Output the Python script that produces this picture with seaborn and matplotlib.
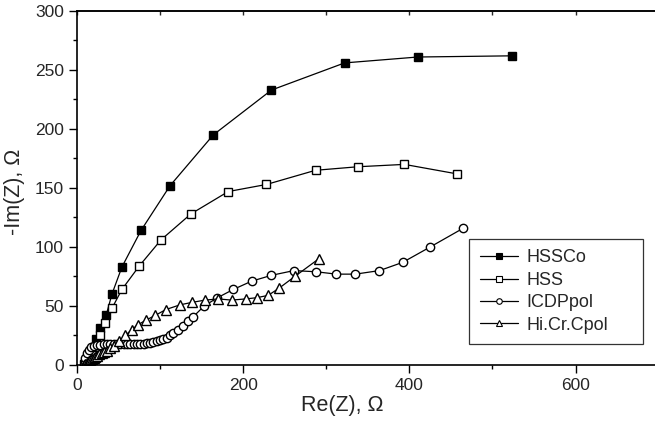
import matplotlib
matplotlib.use("Agg")
import matplotlib.pyplot as plt
import seaborn as sns
import pandas as pd
from matplotlib.ticker import MultipleLocator

# data
hssco_x = [8, 10, 12, 15, 19, 23, 28, 35, 42, 54, 77, 112, 164, 234, 322, 410, 523]
hssco_y = [0.5, 2, 4, 8, 14, 22, 31, 42, 60, 83, 114, 152, 195, 233, 256, 261, 262]

hss_x = [9, 11, 14, 18, 22, 28, 34, 42, 54, 75, 101, 137, 182, 228, 287, 338, 394, 457]
hss_y = [0.5, 2, 5, 9, 15, 25, 36, 48, 64, 84, 106, 128, 147, 153, 165, 168, 170, 162]

icdp_x = [8, 9, 10, 12, 14, 17, 20, 24, 28, 32, 36, 40, 44, 48, 52, 56, 60, 64, 68, 72,
          76, 80, 84, 88, 92, 96, 100, 104, 108, 112, 116, 121, 127, 133, 140, 153,
          169, 188, 210, 234, 261, 288, 312, 335, 364, 392, 425, 465]
icdp_y = [0, 3, 6, 10, 13, 15, 16, 17, 17, 17.5, 17.5, 17.5, 17.5, 17.5, 17.5, 17.5, 17.5,
          17.5, 17.5, 18, 18, 18, 18.5, 19, 19.5, 20, 21, 22, 23, 25, 27, 30, 33, 37, 41,
          50, 57, 64, 71, 76, 80, 79, 77, 77, 80, 87, 100, 116]

hicr_x = [8, 10, 12, 14, 16, 18, 20, 22, 24, 27, 30, 33, 36, 40, 45, 51, 58, 66, 73, 83,
          94, 107, 124, 138, 154, 170, 186, 203, 216, 230, 243, 262, 291]
hicr_y = [0, 1, 2, 3, 4, 5, 6, 7, 8, 9, 10, 11, 12, 14, 16, 20, 25, 30, 34, 38,
          42, 47, 51, 53, 55, 56, 55, 56, 57, 59, 65, 75, 90]

series_names = ["HSSCo", "HSS", "ICDPpol", "Hi.Cr.Cpol"]
series_x = [hssco_x, hss_x, icdp_x, hicr_x]
series_y = [hssco_y, hss_y, icdp_y, hicr_y]
markers = ["s", "s", "o", "^"]
faces = ["black", "white", "white", "white"]
msizes = [6.2, 5.5, 6, 6.5]

sns.set_style("ticks")
plt.rcParams["font.family"] = ["Liberation Sans", "DejaVu Sans"]

fig = plt.figure(figsize=(6.55, 4.26), dpi=100)
ax = fig.add_axes([0.1176, 0.1432, 0.888, 0.831])

for name, xs, ys, m, fc, ms in zip(series_names, series_x, series_y, markers, faces, msizes):
    df = pd.DataFrame({"x": xs, "y": ys})
    sns.lineplot(data=df, x="x", y="y", ax=ax, sort=False, estimator=None,
                 color="black", linewidth=0.9, marker=m, markersize=ms,
                 markerfacecolor=fc, markeredgecolor="black", markeredgewidth=1.0,
                 label=name)

ax.set_xlim(0, 700)
ax.set_ylim(0, 300)
ax.xaxis.set_major_locator(MultipleLocator(200))
ax.xaxis.set_minor_locator(MultipleLocator(100))
ax.yaxis.set_major_locator(MultipleLocator(50))
ax.yaxis.set_minor_locator(MultipleLocator(25))
ax.tick_params(which="major", direction="out", length=6, width=1, labelsize=12.5, color="black")
ax.tick_params(which="minor", direction="out", length=3, width=1, color="black")

for s in ["left", "bottom", "top"]:
    ax.spines[s].set_linewidth(1.2)
    ax.spines[s].set_color("black")
ax.spines["right"].set_visible(False)

top = ax.secondary_xaxis("top")
top.xaxis.set_major_locator(MultipleLocator(100))
top.tick_params(direction="in", length=3, width=1, labeltop=False)
top.spines["top"].set_linewidth(1.2)

ax.set_xlabel("Re(Z), \u03a9", fontsize=15.5)
ax.set_ylabel("-Im(Z), \u03a9", fontsize=15.5)
ax.xaxis.set_label_coords(0.456, -0.085)
ax.yaxis.set_label_coords(-0.089, 0.49)

leg = ax.legend(loc="center left", bbox_to_anchor=(0.674, 0.065, 0.299, 0.285),
                mode="expand", fontsize=13, frameon=True, fancybox=False,
                edgecolor="black", handlelength=2.1, handletextpad=0.5,
                borderpad=0.6, labelspacing=0.3, borderaxespad=0)
leg.get_frame().set_linewidth(0.9)
for h in leg.legend_handles:
    h.set_markersize(4)
    h.set_markeredgewidth(0.8)

fig.savefig("out.png", dpi=100)
